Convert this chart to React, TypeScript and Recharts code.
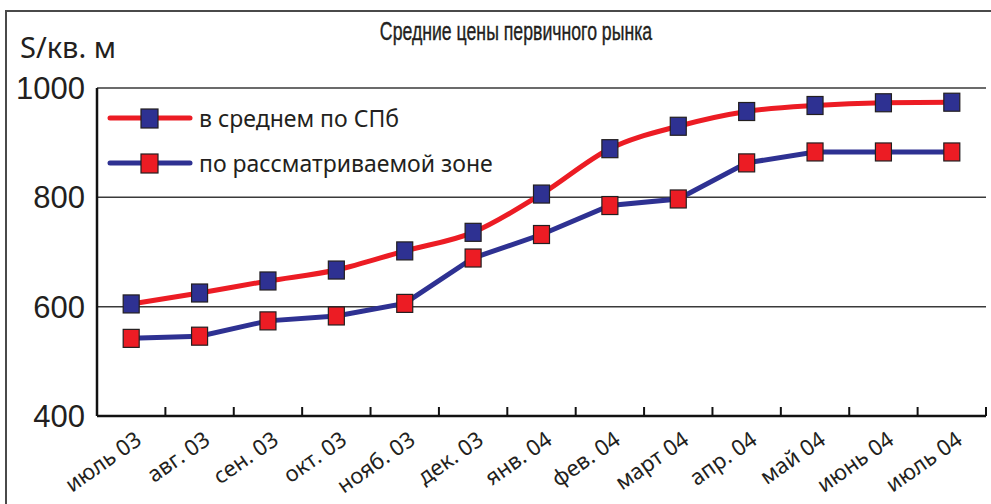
import React from "react";
import { Line, LineChart, CartesianGrid, XAxis, YAxis } from "recharts";

const months = [
  "июль 03", "авг. 03", "сен. 03", "окт. 03", "нояб. 03", "дек. 03", "янв. 04",
  "фев. 04", "март 04", "апр. 04", "май 04", "июнь 04", "июль 04",
];
const spbAvg = [605, 625, 647, 667, 702, 736, 806, 889, 930, 957, 968, 973, 974];
const zoneAvg = [542, 546, 574, 583, 606, 689, 732, 785, 797, 863, 883, 883, 883];
const yTicks = [400, 600, 800, 1000];

const data = months.map((m, i) => ({ month: m, spb: spbAvg[i], zone: zoneAvg[i] }));

const RED = "#ec1c24";
const BLUE = "#2e3192";
const W = 991;
const H = 504;
const PLOT_LEFT = 97;
const PLOT_RIGHT = 986;
const BAND = (PLOT_RIGHT - PLOT_LEFT) / months.length;

const LABEL_FONT = "'Noto Sans', 'DejaVu Sans', sans-serif";

// square marker with dark outline
const squareDot = (fill: string) => (props: any) => {
  const { cx, cy, index } = props;
  if (cx == null || cy == null) return null;
  return (
    <rect
      key={`d-${index}`}
      x={cx - 8}
      y={cy - 9}
      width={16}
      height={18}
      fill={fill}
      stroke="#231f20"
      strokeWidth={1.2}
    />
  );
};

// category label plus tick mark at the right edge of each band
const XTick = (props: any) => {
  const { x, y, payload } = props;
  const edge = x + BAND / 2;
  const ax = x + 12;
  const ay = y + 27;
  return (
    <g>
      <line x1={edge} x2={edge} y1={y - 9} y2={y} stroke="#111" strokeWidth={2} />
      <text
        x={ax}
        y={ay}
        textAnchor="end"
        transform={`rotate(-35, ${ax}, ${ay})`}
        fontSize={22}
        fontFamily={LABEL_FONT}
        fill="#231f20"
      >
        {payload.value}
      </text>
    </g>
  );
};

const legendRows = [
  { line: RED, mark: BLUE, text: "в среднем по СПб" },
  { line: BLUE, mark: RED, text: "по рассматриваемой зоне" },
];

const LegendBox = () => (
  <div style={{ position: "absolute", left: 107, top: 95 }}>
    {legendRows.map((r) => (
      <div key={r.text} style={{ display: "flex", alignItems: "center", height: 45 }}>
        <svg width={86} height={22}>
          <line x1={3} x2={83} y1={11} y2={11} stroke={r.line} strokeWidth={5} strokeLinecap="round" />
          <rect x={34} y={2} width={17} height={19} fill={r.mark} stroke="#231f20" strokeWidth={1.2} />
        </svg>
        <span
          style={{
            marginLeft: 6,
            fontFamily: LABEL_FONT,
            fontSize: 23,
            color: "#231f20",
            whiteSpace: "nowrap",
          }}
        >
          {r.text}
        </span>
      </div>
    ))}
  </div>
);

export default function App() {
  return (
    <div style={{ position: "absolute", left: 0, top: 0, width: W, height: H, background: "#fff", overflow: "hidden" }}>
      {/* outer frame */}
      <div
        style={{
          position: "absolute",
          left: 5,
          top: 10,
          width: W,
          height: H,
          borderTop: "2px solid #4a4a4a",
          borderLeft: "2px solid #4a4a4a",
        }}
      />
      <div
        style={{
          position: "absolute",
          left: 516 - 300,
          top: 16,
          width: 600,
          textAlign: "center",
          whiteSpace: "nowrap",
          fontFamily: "'Liberation Sans', sans-serif",
          fontSize: 26,
          color: "#231f20",
          transform: "scaleX(0.68)",
          transformOrigin: "center",
          WebkitTextStroke: "0.4px #231f20",
        }}
      >
        Средние цены первичного рынка
      </div>
      <div
        style={{
          position: "absolute",
          left: 20,
          top: 27,
          fontFamily: LABEL_FONT,
          fontSize: 29,
          color: "#231f20",
        }}
      >
        S/кв. м
      </div>
      <LineChart
        width={W}
        height={H}
        data={data}
        margin={{ top: 88, right: W - PLOT_RIGHT, left: 17, bottom: 8 }}
      >
        <CartesianGrid horizontal vertical={false} stroke="#3a3a3a" strokeWidth={1.5} />
        <XAxis
          dataKey="month"
          height={80}
          padding={{ left: BAND / 2, right: BAND / 2 }}
          tickSize={0}
          tickMargin={0}
          tickLine={false}
          axisLine={{ stroke: "#111", strokeWidth: 2.5 }}
          interval={0}
          tick={<XTick />}
        />
        <YAxis
          width={80}
          domain={[400, 1000]}
          ticks={yTicks}
          tickSize={0}
          tickMargin={12}
          tickLine={false}
          axisLine={{ stroke: "#111", strokeWidth: 2.5 }}
          tick={{ fontSize: 31, fill: "#231f20", fontFamily: "'Liberation Sans', sans-serif" }}
        />
        <Line
          type="monotone"
          dataKey="spb"
          name="в среднем по СПб"
          stroke={RED}
          strokeWidth={5}
          dot={squareDot(BLUE)}
          activeDot={false}
          isAnimationActive={false}
        />
        <Line
          type="linear"
          dataKey="zone"
          name="по рассматриваемой зоне"
          stroke={BLUE}
          strokeWidth={5}
          dot={squareDot(RED)}
          activeDot={false}
          isAnimationActive={false}
        />
      </LineChart>
      <LegendBox />
    </div>
  );
}
